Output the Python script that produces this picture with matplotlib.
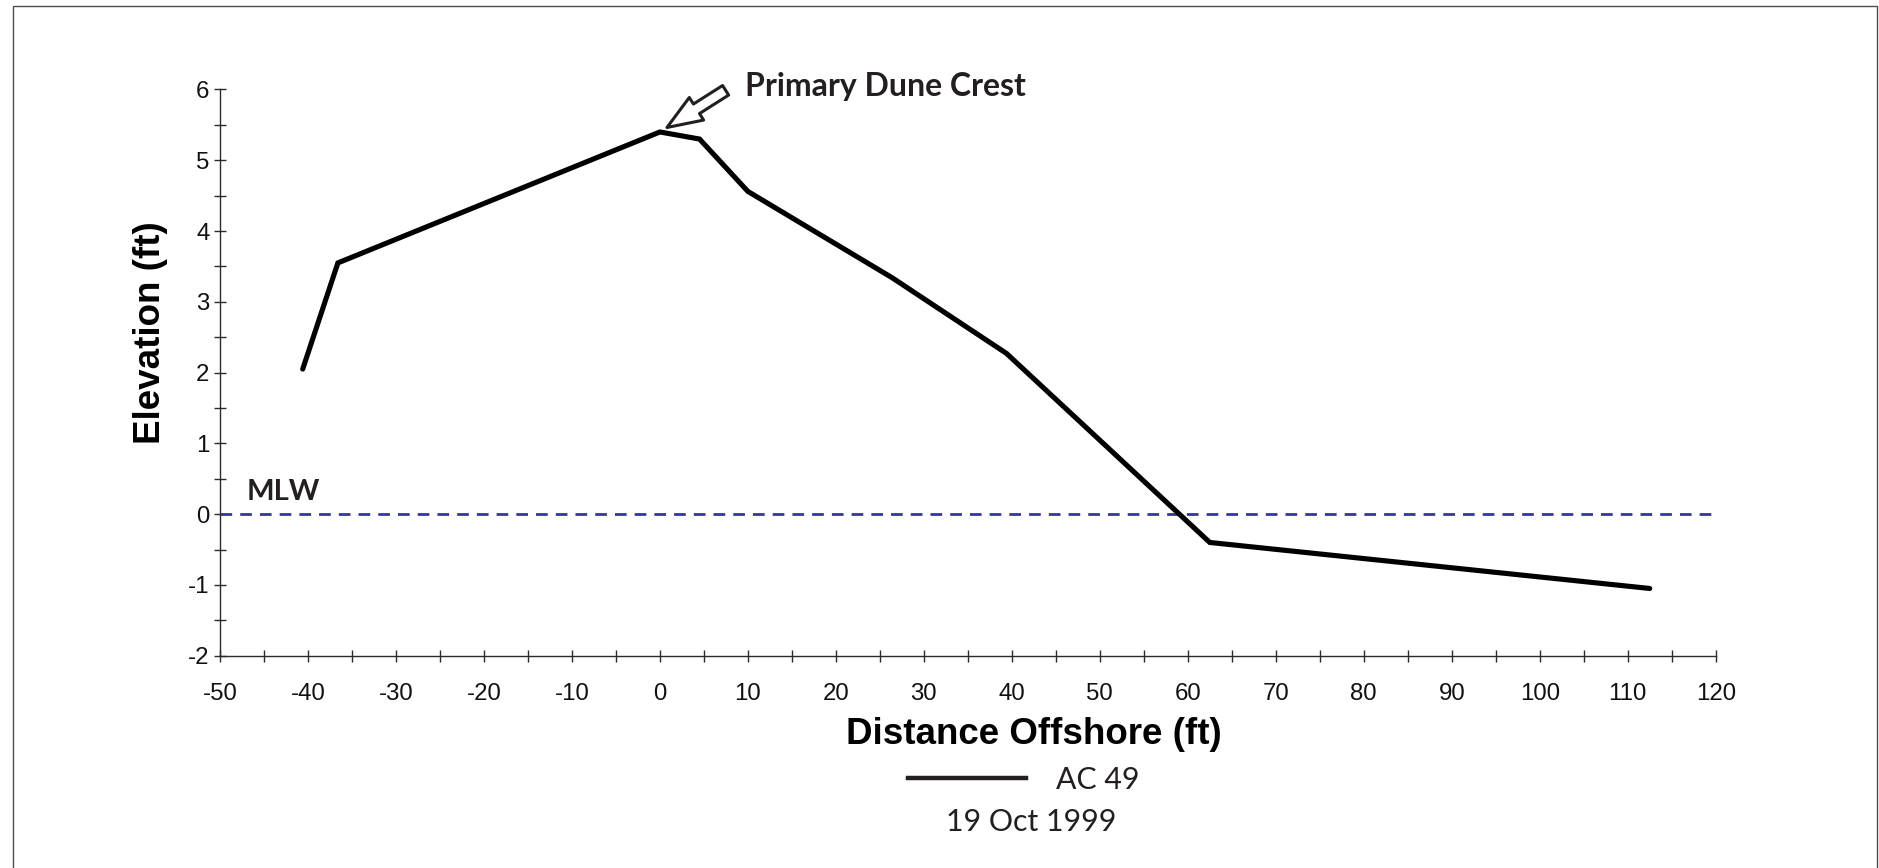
import matplotlib
matplotlib.use("Agg")
import matplotlib.pyplot as plt
from matplotlib.lines import Line2D
from matplotlib.patches import Rectangle
from matplotlib.ticker import MultipleLocator

# Beach profile AC 49 surveyed 19 Oct 1999
distance = [-40.6, -36.6, 0.0, 4.5, 10.0, 26.4, 39.4, 62.5, 112.5]
elevation = [2.05, 3.55, 5.40, 5.30, 4.56, 3.34, 2.27, -0.40, -1.05]
mlw_level = 0.0
crest_distance = 0.0
crest_elevation = 5.40
profile_name = "AC 49"
survey_date = "19 Oct 1999"
x_ticks = list(range(-50, 121, 10))
y_ticks = list(range(-2, 7))

plt.rcParams["font.family"] = ["Liberation Sans", "DejaVu Sans"]

W, H = 1879, 868
fig = plt.figure(figsize=(W / 100, H / 100), dpi=100)
fig.patch.set_facecolor("white")

# thin frame around the whole figure
fig.add_artist(Rectangle((12.7 / W, -0.05), 1.0 - 12.7 / W - 2.5 / W, 1.05 - 6 / H,
                         transform=fig.transFigure, fill=False,
                         edgecolor="#4d4d4d", linewidth=1.0))

ax = fig.add_axes([220 / W, 1 - 655.7 / H, (1715.7 - 220) / W, (655.7 - 89.5) / H])
ax.set_facecolor("none")

ax.plot(distance, elevation, color="black", linewidth=3.7,
        solid_capstyle="round", solid_joinstyle="miter", zorder=3)
ax.axhline(mlw_level, color="#34379a", linewidth=2.0, dashes=(4.2, 2.9), zorder=2)

ax.set_xlim(x_ticks[0], x_ticks[-1])
ax.set_ylim(y_ticks[0], y_ticks[-1])
ax.set_xticks(x_ticks)
ax.set_yticks(y_ticks)
ax.set_xticklabels([str(v) for v in x_ticks])
ax.set_yticklabels([str(v) for v in y_ticks])
ax.xaxis.set_minor_locator(MultipleLocator(5))
ax.yaxis.set_minor_locator(MultipleLocator(0.5))

for side in ("top", "right"):
    ax.spines[side].set_visible(False)
for side in ("left", "bottom"):
    ax.spines[side].set_color("#2b2b2b")
    ax.spines[side].set_linewidth(1.0)

ax.tick_params(axis="both", which="both", direction="inout", length=8.6,
               width=1.0, color="#2b2b2b", labelsize=17.3, labelcolor="#111111")
ax.tick_params(axis="x", which="major", pad=15.6)
ax.tick_params(axis="y", which="major", pad=3.2)

label_font = ["Liberation Sans", "DejaVu Sans"]
fig.text(1034 / W, 1 - 735 / H, "Distance Offshore (ft)", ha="center", va="center",
         fontsize=26.5, fontweight="bold", family=label_font, color="black")
fig.text(151 / W, 1 - 333 / H, "Elevation (ft)", ha="center", va="center",
         rotation=90, fontsize=26.5, fontweight="bold", family=label_font, color="black")

note_font = ["Lato", "DejaVu Sans"]
# hollow arrow pointing at the dune crest
ax.annotate("", xy=(crest_distance, crest_elevation), xycoords="data",
            xytext=(47.3, 30.0), textcoords="offset points",
            arrowprops=dict(arrowstyle="simple,head_length=0.68,head_width=0.52,tail_width=0.22",
                            mutation_scale=37, facecolor="white", edgecolor="#231f20",
                            linewidth=2.2, shrinkA=0, shrinkB=6))
ax.annotate("Primary Dune Crest", xy=(crest_distance, crest_elevation), xycoords="data",
            xytext=(61.0, 26.0), textcoords="offset points", ha="left", va="baseline",
            fontsize=23.0, fontweight="bold", family=note_font, color="#231f20")

ax.text(-47.0, mlw_level + 0.2, "MLW", ha="left", va="baseline",
        fontsize=21, fontweight="bold", family=note_font, color="#231f20")

handle = Line2D([], [], color="#231f20", linewidth=3.2)
leg = fig.legend([handle], [profile_name], loc="center",
                 bbox_to_anchor=(1024 / W, 1 - 780 / H), frameon=False,
                 handlelength=3.9, handletextpad=1.0, borderpad=0, borderaxespad=0,
                 prop=dict(family=note_font, size=21.8))
for t in leg.get_texts():
    t.set_color("#231f20")

fig.text(1031.5 / W, 1 - 822 / H, survey_date, ha="center", va="center",
         fontsize=21.8, family=note_font, color="#231f20")

fig.savefig("out.png", dpi=100, facecolor="white")
